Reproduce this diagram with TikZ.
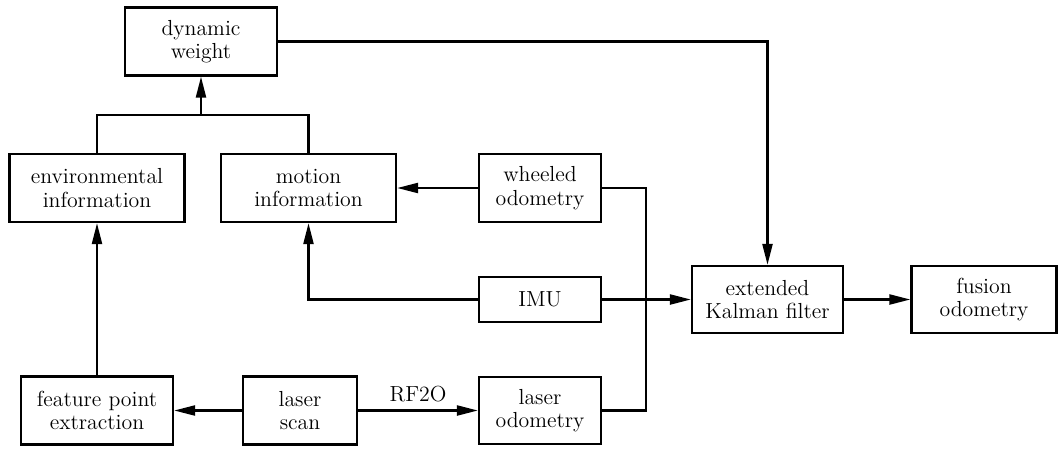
\documentclass[tikz,border=0pt]{standalone}
\usepackage{tikz}
\usetikzlibrary{arrows.meta}

\tikzset{
	blockbox/.style={draw, line width=1.3pt, align=center, inner sep=2pt,
		minimum height=1.36cm, font=\fontsize{12.4}{13.4}\selectfont},
	flow/.style={line width=1.3pt, -{Triangle[length=4.2mm,width=2mm]}},
	plain/.style={line width=1.3pt}
}

\begin{document}
\begin{tikzpicture}
			%%%%% START %%%%%
			\useasboundingbox (0, 0) rectangle (21.16, -9);
			
			\node[blockbox, minimum width=3.04cm] (dynweight) at (4.02, -0.83) {dynamic\\weight};
			
			\node[blockbox, minimum width=3.5cm] (envinfo) at (1.94, -3.76) {environmental\\information};
			\node[blockbox, minimum width=3.5cm] (motioninfo) at (6.17, -3.76) {motion\\information};
			\node[blockbox, minimum width=2.44cm] (wheelodom) at (10.8, -3.76) {wheeled\\odometry};
			
			\node[blockbox, minimum width=2.44cm, minimum height=0.9cm] (imu) at (10.8, -5.99) {IMU};
			\node[blockbox, minimum width=3.02cm, minimum height=1.34cm] (ekf) at (15.35, -5.99) {extended\\Kalman filter};
			\node[blockbox, minimum width=2.9cm, minimum height=1.34cm] (fusionodom) at (19.68, -5.99) {fusion\\odometry};
			
			\node[blockbox, minimum width=3.04cm] (featext) at (1.94, -8.21) {feature point\\extraction};
			\node[blockbox, minimum width=2.28cm] (laserscan) at (6.0, -8.21) {laser\\scan};
			\node[blockbox, minimum width=2.44cm, minimum height=1.34cm] (laserodom) at (10.8, -8.21) {laser\\odometry};
			
			\coordinate (merge) at (4.02, -2.3);
			\coordinate (busx) at (12.92, 0);
			
			% weights
			\draw[plain] (envinfo.north) |- (merge) -| (motioninfo.north);
			\draw[flow] (merge) -- (dynweight.south);
			\draw[flow] (dynweight.east) -| (ekf.north);
			
			% sensors
			\draw[flow] (wheelodom.west) -- (motioninfo.east);
			\draw[flow] (imu.west) -| (motioninfo.south);
			\draw[plain] (wheelodom.east) -| (busx |- laserodom.east) -- (laserodom.east);
			\draw[flow] (imu.east) -- (ekf.west);
			\draw[flow] (ekf.east) -- (fusionodom.west);
			
			% laser
			\draw[flow] (featext.north) -- (envinfo.south);
			\draw[flow] (laserscan.west) -- (featext.east);
			\draw[flow] (laserscan.east) -- node[above=1pt, font=\fontsize{12.4}{13.4}\selectfont] {RF2O} (laserodom.west);
			%%%%% END %%%%%
\end{tikzpicture}
\end{document}
